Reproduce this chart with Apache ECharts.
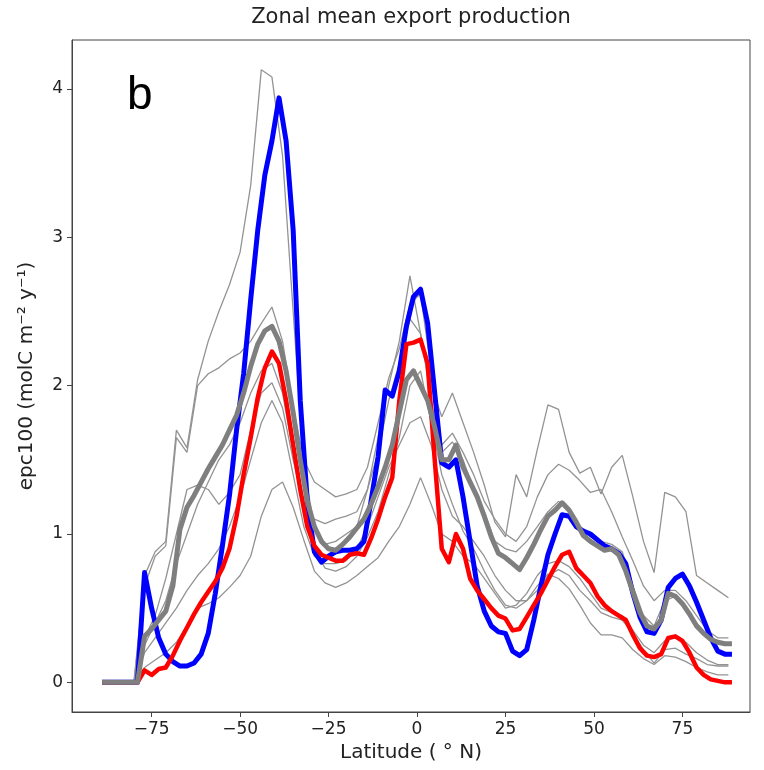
<!DOCTYPE html>
<html>
<head>
<meta charset="utf-8">
<script src="https://cdn.jsdelivr.net/npm/echarts@6/dist/echarts.min.js"></script>
<style>html,body{margin:0;padding:0;background:#fff}#c{width:764px;height:770px}</style>
</head>
<body>
<div id="c"></div>
<script>
// ---- data ----
const latMain = [];
for (let k = 0; k < 90; k++) latMain.push(-89 + 2 * k); // -89 .. 89
const latThin = [];
for (let k = 0; k < 60; k++) latThin.push(-89 + 3 * k); // -89 .. 88

const xTicks = [-75, -50, -25, 0, 25, 50, 75];
const yTicks = [0, 1, 2, 3, 4];

const blue = [0,0,0,0,0,0,0.74,0.5,0.3,0.19,0.14,0.11,0.11,0.13,0.19,0.33,0.6,0.92,1.26,1.7,
  2.08,2.58,3.05,3.42,3.65,3.94,3.65,3.05,1.9,1.22,0.88,0.81,0.85,0.88,0.89,0.89,0.9,0.95,1.22,1.52,
  1.97,1.93,2.1,2.4,2.6,2.65,2.42,1.95,1.48,1.45,1.5,1.25,0.95,0.65,0.48,0.38,0.34,0.33,0.21,0.18,
  0.22,0.42,0.65,0.86,1.0,1.13,1.12,1.05,1.02,1.0,0.96,0.92,0.9,0.87,0.8,0.6,0.44,0.34,0.33,0.42,
  0.64,0.7,0.73,0.65,0.54,0.42,0.3,0.21,0.19,0.19];

const red = [0,0,0,0,0,0,0.08,0.05,0.09,0.1,0.18,0.28,0.37,0.46,0.54,0.61,0.68,0.77,0.9,1.12,
  1.4,1.65,1.92,2.12,2.23,2.15,1.9,1.6,1.3,1.05,0.92,0.86,0.84,0.82,0.82,0.86,0.87,0.86,0.97,1.1,
  1.25,1.38,1.9,2.28,2.29,2.31,2.15,1.5,0.9,0.81,1.0,0.9,0.7,0.62,0.56,0.5,0.45,0.43,0.35,0.36,
  0.44,0.52,0.6,0.69,0.78,0.86,0.88,0.77,0.72,0.67,0.58,0.52,0.48,0.45,0.42,0.32,0.23,0.18,0.17,0.19,
  0.3,0.31,0.28,0.2,0.1,0.05,0.02,0.01,0,0];

const ensembleMean = [0,0,0,0,0,0,0.31,0.36,0.42,0.48,0.65,1.03,1.18,1.26,1.35,1.44,1.52,1.6,1.7,1.8,
  1.95,2.13,2.28,2.37,2.4,2.3,2.1,1.82,1.5,1.22,1.05,0.95,0.9,0.89,0.93,0.98,1.04,1.1,1.2,1.32,
  1.45,1.6,1.82,2.04,2.1,2.0,1.9,1.72,1.5,1.5,1.6,1.45,1.35,1.25,1.12,0.98,0.87,0.84,0.8,0.76,
  0.84,0.93,1.03,1.12,1.16,1.21,1.16,1.08,0.99,0.95,0.92,0.89,0.9,0.86,0.75,0.61,0.47,0.38,0.36,0.42,
  0.6,0.58,0.53,0.46,0.38,0.33,0.29,0.27,0.26,0.26];

const model1 = [0,0,0,0,0.72,0.88,0.95,1.7,1.58,2.04,2.3,2.5,2.68,2.9,3.35,4.13,4.08,3.55,2.5,1.45,
  1.05,0.93,0.95,1.0,1.05,1.3,1.65,2.0,2.3,2.74,2.35,2.0,1.79,1.95,1.75,1.55,1.33,1.08,0.98,1.4,
  1.25,1.57,1.87,1.84,1.55,1.41,1.45,1.27,1.45,1.53,1.25,0.95,0.74,1.28,1.25,1.15,0.72,0.67,0.62,0.57];
const model2 = [0,0,0,0,0.65,0.85,0.92,1.65,1.55,2.0,2.08,2.12,2.18,2.22,2.3,2.42,2.53,2.3,1.85,1.5,
  1.35,1.3,1.25,1.27,1.3,1.45,1.75,2.05,2.25,2.55,2.62,2.1,1.6,1.68,1.55,1.4,1.22,1.1,1.0,0.95,
  1.05,1.25,1.4,1.47,1.43,1.36,1.28,1.3,1.15,0.98,0.82,0.65,0.55,0.62,0.62,0.55,0.45,0.35,0.3,0.3];
const model3 = [0,0,0,0,0.3,0.45,0.7,1.0,1.3,1.33,1.3,1.2,1.28,1.4,1.7,1.95,2.02,1.85,1.5,1.2,
  1.1,1.07,1.1,1.12,1.15,1.3,1.55,1.9,2.15,2.45,2.35,1.9,1.55,1.62,1.5,1.3,1.15,0.95,0.9,0.88,
  0.95,1.05,1.15,1.22,1.15,1.05,0.98,0.95,0.93,0.88,0.65,0.45,0.38,0.55,0.58,0.5,0.4,0.32,0.27,0.26];
const model4 = [0,0,0,0,0.2,0.3,0.4,0.5,0.62,0.72,0.8,0.9,1.05,1.25,1.5,1.75,1.9,1.75,1.4,1.05,
  0.85,0.8,0.8,0.82,0.9,1.05,1.25,1.45,1.6,1.75,1.79,1.6,1.3,1.12,1.05,0.95,0.85,0.72,0.62,0.55,
  0.55,0.62,0.72,0.76,0.72,0.62,0.55,0.47,0.44,0.42,0.33,0.22,0.13,0.22,0.23,0.19,0.16,0.12,0.11,0.11];
const model5 = [0,0,0,0,0.25,0.4,0.55,0.8,1.0,1.2,1.35,1.5,1.6,1.75,1.95,2.1,2.15,1.95,1.55,1.15,
  0.9,0.77,0.75,0.78,0.85,0.98,1.15,1.4,1.65,2.0,2.1,1.75,1.4,1.2,1.02,0.9,0.75,0.62,0.52,0.5,
  0.55,0.65,0.73,0.7,0.63,0.52,0.4,0.32,0.32,0.3,0.22,0.16,0.12,0.18,0.17,0.14,0.1,0.07,0.05,0.05];
const model6 = [0,0,0,0,0.1,0.15,0.2,0.27,0.38,0.5,0.53,0.57,0.64,0.72,0.85,1.12,1.3,1.35,1.18,0.96,
  0.75,0.67,0.64,0.67,0.72,0.78,0.84,0.95,1.05,1.2,1.38,1.2,1.0,0.95,0.85,0.8,0.7,0.6,0.5,0.52,
  0.6,0.72,0.8,0.82,0.78,0.7,0.6,0.5,0.47,0.45,0.35,0.25,0.2,0.28,0.3,0.27,0.2,0.15,0.12,0.12];

const thinModels = [model1, model2, model3, model4, model5, model6];

// ---- chart ----
const pairs = (xs, ys) => xs.map((x, i) => [x, ys[i]]);
const FONT = '"DejaVu Sans", sans-serif';
const chart = echarts.init(document.getElementById('c'), null, {renderer: 'canvas'});

const series = [];
thinModels.forEach((m, i) => series.push({
  name: 'model' + (i + 1), type: 'line', data: pairs(latThin, m), showSymbol: false, symbol: 'none',
  lineStyle: {color: '#939393', width: 1.3}, z: 2, silent: true
}));
series.push({name: 'blue', type: 'line', data: pairs(latMain, blue), symbol: 'none',
  lineStyle: {color: '#0000ff', width: 5, join: 'round'}, z: 3});
series.push({name: 'red', type: 'line', data: pairs(latMain, red), symbol: 'none',
  lineStyle: {color: '#ff0000', width: 4.5, join: 'round'}, z: 4});
series.push({name: 'mean', type: 'line', data: pairs(latMain, ensembleMean), symbol: 'none',
  lineStyle: {color: '#7f7f7f', width: 5, join: 'round'}, z: 5});

chart.setOption({
  animation: false,
  backgroundColor: '#fff',
  grid: {left: 72, right: 14, top: 40, bottom: 58, show: true, borderColor: '#444', borderWidth: 1, backgroundColor: 'transparent'},
  xAxis: {
    type: 'value', min: -97.5, max: 94.1,
    splitLine: {show: false},
    axisLine: {show: true, onZero: false, lineStyle: {color: '#444', width: 1}},
    axisTick: {show: true, inside: false, length: 5, customValues: xTicks, lineStyle: {color: '#444'}},
    axisLabel: {customValues: xTicks, margin: 9, fontFamily: FONT, fontSize: 17, color: '#222',
      formatter: v => String(v).replace('-', '\u2212')}
  },
  yAxis: {
    type: 'value', min: -0.2, max: 4.33,
    splitLine: {show: false},
    axisLine: {show: true, onZero: false, lineStyle: {color: '#444', width: 1}},
    axisTick: {show: true, inside: false, length: 5, customValues: yTicks, lineStyle: {color: '#444'}},
    axisLabel: {customValues: yTicks, margin: 9, fontFamily: FONT, fontSize: 17, color: '#222'}
  },
  graphic: [
    {type: 'text', x: 411, y: 18, style: {text: 'Zonal mean export production',
      font: '21px ' + FONT, fill: '#222', textAlign: 'center', textVerticalAlign: 'middle'}},
    {type: 'text', x: 411, y: 753, style: {text: 'Latitude ( \u00b0 N)', font: '20px ' + FONT, fill: '#222',
      textAlign: 'center', textVerticalAlign: 'middle'}},
    {type: 'text', x: 27, y: 376, rotation: Math.PI / 2, style: {text: 'epc100 (molC m\u207b\u00b2 y\u207b\u00b9)',
      font: '20px ' + FONT, fill: '#222', textAlign: 'center', textVerticalAlign: 'middle'}},
    {type: 'text', x: 127, y: 119, style: {text: 'b', font: '46px "Liberation Sans", Arial, sans-serif', fill: '#000',
      textAlign: 'left', textVerticalAlign: 'bottom'}}
  ],
  series: series
});
</script>
</body>
</html>
